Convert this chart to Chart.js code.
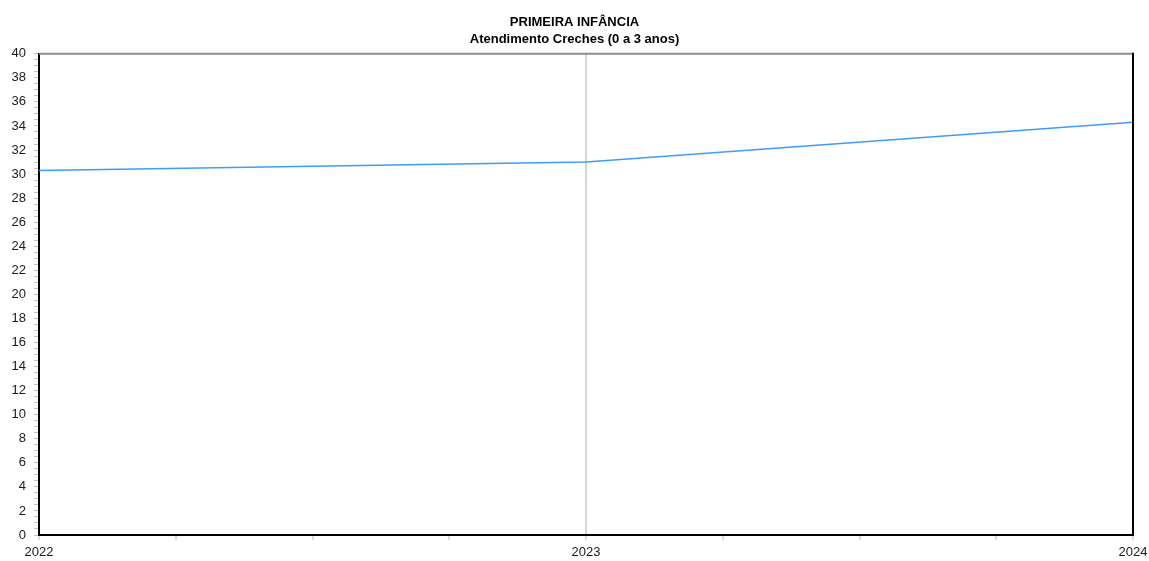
<!DOCTYPE html>
<html>
<head>
<meta charset="utf-8">
<script src="https://cdn.jsdelivr.net/npm/chart.js@4"></script>
<style>
    html, body { margin: 0; padding: 0; background: #fff; }
    #wrap { width: 1149px; height: 561px; }
</style>
</head>
<body>
<div id="wrap"><canvas id="lineChart"></canvas></div>
<script>
var titleLines = ["PRIMEIRA INFÂNCIA", "Atendimento Creches (0 a 3 anos)"];
var years = [2022, 2023, 2024];
var values = [30.3, 31.0, 34.3];
var yMin = 0;
var yMax = 40;

var points = years.map(function(y, i) {
    return { x: y, y: values[i] };
});

// top and right frame lines
var framePlugin = {
    id: "frame",
    afterDraw: function(chart) {
        var a = chart.chartArea;
        var c = chart.ctx;
        c.save();
        c.lineWidth = 2;
        c.strokeStyle = "#8c8c8c";
        c.beginPath();
        c.moveTo(a.left, a.top);
        c.lineTo(a.right, a.top);
        c.stroke();
        c.strokeStyle = "#000";
        c.beginPath();
        c.moveTo(a.right, a.top - 1);
        c.lineTo(a.right, a.bottom + 1);
        c.stroke();
        c.restore();
    }
};

var ctx = document.getElementById("lineChart");

var chart = new Chart(ctx, {
    type: "line",
    data: {
        datasets: [
            {
                label: titleLines[1],
                data: points,
                borderColor: "#3d9bff",
                borderWidth: 1.5,
                pointRadius: 0,
                tension: 0,
                fill: false
            }
        ]
    },
    options: {
        responsive: true,
        maintainAspectRatio: false,
        animation: false,
        layout: {
            padding: { left: 0, right: 0, top: 0, bottom: 0 }
        },
        plugins: {
            legend: { display: false },
            tooltip: { enabled: false },
            title: {
                display: true,
                text: titleLines,
                color: "#000",
                font: { family: "'Liberation Sans', Arial, sans-serif", size: 13, weight: "bold", lineHeight: 1.3 },
                padding: { top: 14, bottom: 6 }
            }
        },
        scales: {
            x: {
                type: "linear",
                min: years[0],
                max: years[years.length - 1],
                afterBuildTicks: function(scale) {
                    var t = [];
                    for (var v = years[0]; v <= years[years.length - 1] + 0.001; v += 0.25) {
                        t.push({ value: v });
                    }
                    scale.ticks = t;
                },
                afterFit: function(scale) {
                    scale.height = 26;
                    scale.paddingRight = 16;
                },
                ticks: {
                    autoSkip: false,
                    maxRotation: 0,
                    padding: 5,
                    color: "#1a1a1a",
                    font: { family: "'Liberation Sans', Arial, sans-serif", size: 13 },
                    callback: function(v) {
                        return Math.abs(v - Math.round(v)) < 0.001 ? String(Math.round(v)) : "";
                    }
                },
                grid: {
                    drawOnChartArea: true,
                    tickLength: 5,
                    color: function(c) {
                        if (!c.tick) return "transparent";
                        var v = c.tick.value;
                        return (Math.abs(v - 2023) < 0.001) ? "#d4d4d4" : "transparent";
                    },
                    lineWidth: 2,
                    tickColor: "#b8b8b8",
                    tickWidth: 1
                },
                border: { display: true, color: "#000", width: 2 }
            },
            y: {
                min: yMin,
                max: yMax,
                afterBuildTicks: function(scale) {
                    var t = [];
                    for (var v = yMin; v <= yMax + 0.001; v += 0.5) {
                        t.push({ value: v });
                    }
                    scale.ticks = t;
                },
                afterFit: function(scale) { scale.width = 39; },
                ticks: {
                    autoSkip: false,
                    padding: 8,
                    color: "#1a1a1a",
                    font: { family: "'Liberation Sans', Arial, sans-serif", size: 13 },
                    callback: function(v) {
                        return (Math.abs(v % 2) < 0.001) ? String(v) : "";
                    }
                },
                grid: {
                    drawOnChartArea: false,
                    tickLength: 5,
                    tickColor: "#c4c4c4",
                    tickWidth: 1
                },
                border: { display: true, color: "#000", width: 2 }
            }
        }
    },
    plugins: [framePlugin]
});
</script>
</body>
</html>
